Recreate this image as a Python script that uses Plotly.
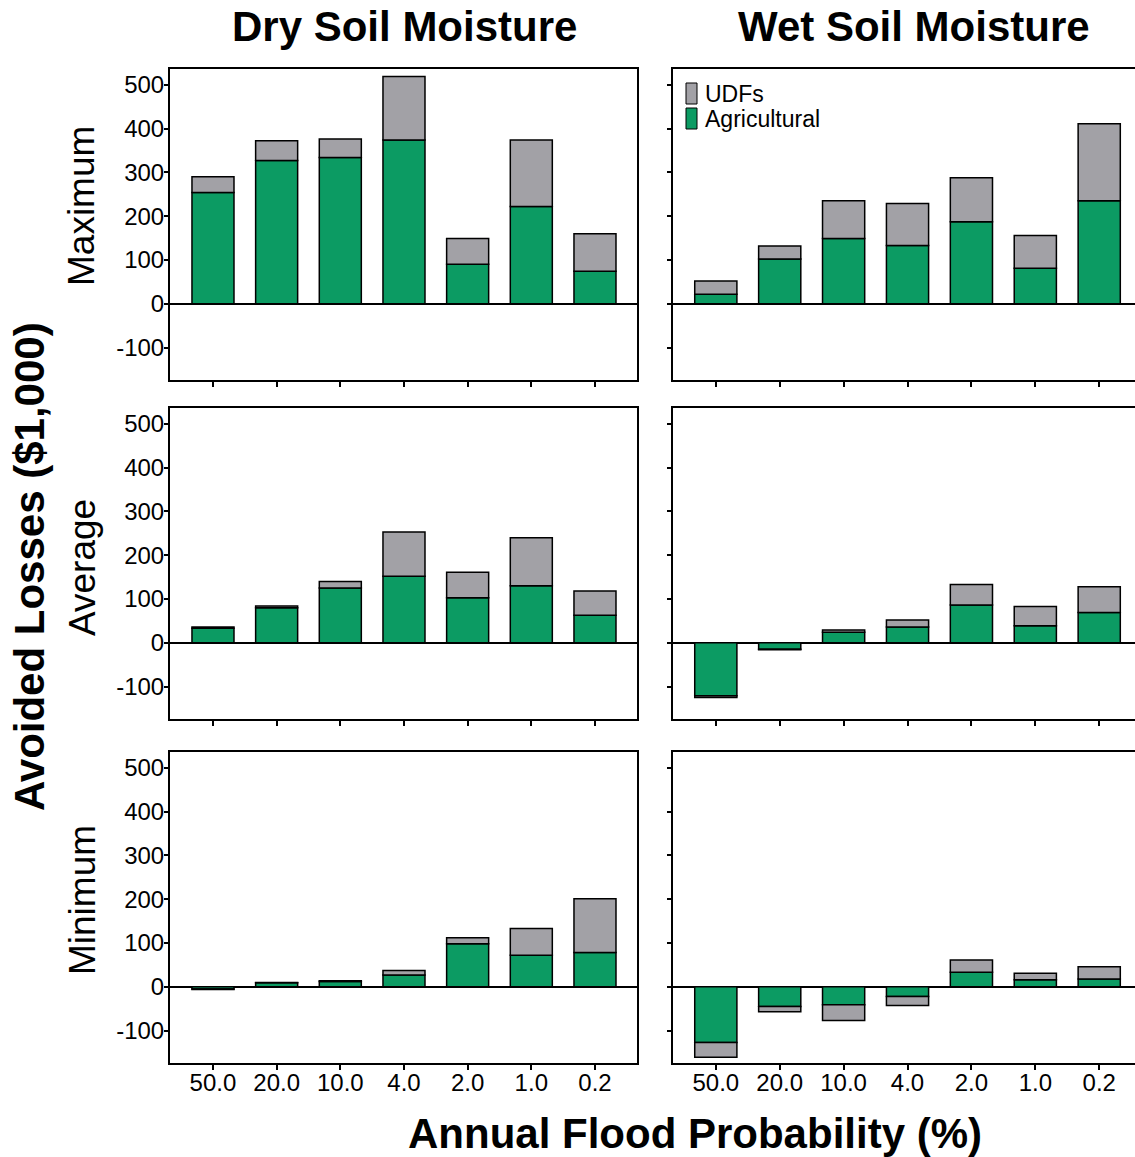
import plotly.graph_objects as go

# Annual flood probability categories (%)
categories = ["50.0", "20.0", "10.0", "4.0", "2.0", "1.0", "0.2"]

# Avoided losses ($1,000) by land-use component
dry_max_agri = [254, 327, 334, 374, 90, 222, 74]
dry_max_udf = [36, 45, 42, 145, 59, 152, 86]
wet_max_agri = [22, 102, 149, 133, 187, 81, 235]
wet_max_udf = [30, 30, 86, 96, 101, 75, 176]

dry_avg_agri = [33, 80, 125, 152, 103, 130, 63]
dry_avg_udf = [3, 4, 15, 101, 58, 110, 55]
wet_avg_agri = [-121, -15, 24, 36, 86, 39, 69]
wet_avg_udf = [-4, -1, 5, 16, 47, 44, 59]

dry_min_agri = [-5, 9, 12, 27, 98, 72, 78]
dry_min_udf = [-1, 1, 2, 10, 14, 61, 123]
wet_min_agri = [-127, -45, -41, -22, 33, 16, 18]
wet_min_udf = [-34, -12, -36, -21, 28, 15, 28]

y_ticks = [-100, 0, 100, 200, 300, 400, 500]
y_tick_text = ["-100", "0", "100", "200", "300", "400", "500"]

GREEN = "#0c9b63"
GRAY = "#a2a1a6"
FONT = "Liberation Sans, Arial, sans-serif"

W, H = 1135, 1157


def px_x(x):
    return x / W


def px_y(y):
    return 1 - y / H


panels = [
    (dry_max_agri, dry_max_udf),
    (wet_max_agri, wet_max_udf),
    (dry_avg_agri, dry_avg_udf),
    (wet_avg_agri, wet_avg_udf),
    (dry_min_agri, dry_min_udf),
    (wet_min_agri, wet_min_udf),
]

# pixel boxes of the panels
col_px = [(170, 637), (673, 1135)]
row_px = [(69, 380), (408, 719), (752, 1063)]
x_ranges = [[-0.675, 6.66], [-0.67, 6.56]]

fig = go.Figure()
layout = dict(
    width=W,
    height=H,
    margin=dict(l=0, r=0, t=0, b=0),
    paper_bgcolor="white",
    plot_bgcolor="white",
    barmode="relative",
    showlegend=False,
    font=dict(family=FONT, color="black"),
)

for i, (agri, udf) in enumerate(panels):
    r, c = divmod(i, 2)
    n = i + 1
    xa = "x" if n == 1 else f"x{n}"
    ya = "y" if n == 1 else f"y{n}"
    fig.add_trace(go.Bar(
        x=list(range(len(categories))), y=agri, name="Agricultural",
        xaxis=xa, yaxis=ya, width=0.66,
        marker=dict(color=GREEN, line=dict(color="black", width=1.5)),
    ))
    fig.add_trace(go.Bar(
        x=list(range(len(categories))), y=udf, name="UDFs",
        xaxis=xa, yaxis=ya, width=0.66,
        marker=dict(color=GRAY, line=dict(color="black", width=1.5)),
    ))
    x0, x1 = col_px[c]
    y0, y1 = row_px[r]
    layout[f"xaxis{n if n > 1 else ''}"] = dict(
        domain=[px_x(x0), min(px_x(x1), 1.0)],
        anchor=ya,
        range=x_ranges[c],
        tickvals=list(range(len(categories))),
        ticktext=categories,
        showticklabels=(r == 2),
        ticklabelstandoff=-8,
        tickfont=dict(size=24, family=FONT, color="black"),
        ticks="outside", ticklen=5, tickwidth=2, tickcolor="black",
        showline=True, linecolor="black", linewidth=2, mirror=True,
        showgrid=False, zeroline=False, fixedrange=True,
    )
    layout[f"yaxis{n if n > 1 else ''}"] = dict(
        domain=[px_y(y1), px_y(y0)],
        anchor=xa,
        range=[-174, 536],
        tickvals=y_ticks,
        ticktext=y_tick_text,
        showticklabels=(c == 0),
        ticklabelstandoff=-5,
        tickfont=dict(size=24, family=FONT, color="black"),
        ticks="outside", ticklen=4, tickwidth=2, tickcolor="black",
        showline=True, linecolor="black", linewidth=2,
        mirror=(c == 0),
        showgrid=False,
        zeroline=True, zerolinecolor="black", zerolinewidth=2,
        fixedrange=True,
    )

annotations = [
    dict(text="<b>Dry Soil Moisture</b>", x=px_x(404), y=px_y(27), font=dict(size=42)),
    dict(text="<b>Wet Soil Moisture</b>", x=px_x(914), y=px_y(27), font=dict(size=42)),
    dict(text="<b>Annual Flood Probability (%)</b>", x=px_x(695), y=px_y(1133), font=dict(size=42)),
    dict(text="<b>Avoided Losses ($1,000)</b>", x=px_x(30), y=px_y(567), font=dict(size=42), textangle=-90),
    dict(text="Maximum", x=px_x(82), y=px_y(206), font=dict(size=37), textangle=-90),
    dict(text="Average", x=px_x(82), y=px_y(568), font=dict(size=37), textangle=-90),
    dict(text="Minimum", x=px_x(82), y=px_y(900), font=dict(size=37), textangle=-90),
    dict(text="UDFs", x=px_x(703), y=px_y(94), font=dict(size=23), xanchor="left"),
    dict(text="Agricultural", x=px_x(703), y=px_y(119), font=dict(size=23), xanchor="left"),
]
for a in annotations:
    a.setdefault("xanchor", "center")
    a.update(xref="paper", yref="paper", yanchor="middle", showarrow=False)
    a["font"].update(family=FONT, color="black")

# legend swatches
shapes = [
    dict(type="rect", xref="paper", yref="paper",
         x0=px_x(686), x1=px_x(697), y0=px_y(104), y1=px_y(83),
         fillcolor=GRAY, line=dict(color="black", width=1)),
    dict(type="rect", xref="paper", yref="paper",
         x0=px_x(686), x1=px_x(697), y0=px_y(129), y1=px_y(108),
         fillcolor=GREEN, line=dict(color="black", width=1)),
]

layout["annotations"] = annotations
layout["shapes"] = shapes
fig.update_layout(**layout)
fig.write_html("out.html")
